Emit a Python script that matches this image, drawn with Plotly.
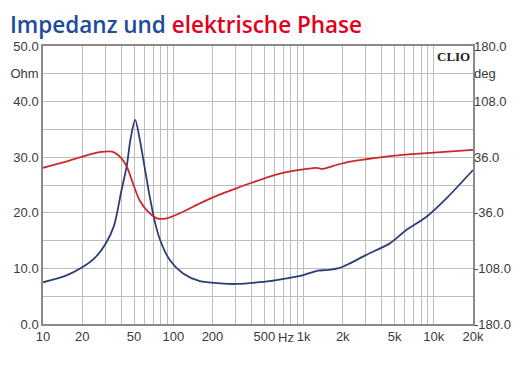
import math
import plotly.graph_objects as go

# ---- data ----
imp_freq = [10, 15, 20, 25, 30, 35, 40, 44, 47, 51, 55, 60, 66, 72, 79, 94, 119, 160,
            230, 300, 400, 550, 740, 1000, 1290, 1500, 1900, 2270, 2950, 4600, 6150,
            8800, 12500, 20000]
impedance = [7.5, 8.7, 10.2, 11.9, 14.3, 17.6, 24.0, 28.5, 33.3, 36.7, 33.5, 28.5,
             22.9, 18.5, 15.2, 11.5, 9.1, 7.7, 7.3, 7.2, 7.4, 7.7, 8.2, 8.8, 9.6, 9.7,
             10.1, 10.9, 12.3, 14.5, 16.9, 19.3, 22.6, 27.7]

ph_freq = [10, 15, 20, 27, 34, 40, 44, 49, 55, 64, 75, 89, 119, 160, 229, 305, 400,
           550, 740, 1000, 1255, 1410, 1790, 2270, 2950, 4600, 8300, 20000]
phase = [22.3, 30.2, 36.7, 42.5, 43.2, 34.6, 23.8, 2.2, -19.4, -34.6, -43.2, -43.2,
         -34.6, -23.8, -12.2, -4.3, 2.9, 10.8, 16.6, 20.2, 22.3, 20.9, 25.9, 30.2, 33.1,
         37.4, 41.0, 45.4]

x_grid = [m * d for d in (10, 100, 1000) for m in range(1, 10)] + [10000, 20000]
x_labels = {10: "10", 20: "20", 50: "50", 100: "100", 200: "200", 500: "500",
            1000: "1k", 2000: "2k", 5000: "5k", 10000: "10k", 20000: "20k"}
y_grid = [0, 5, 10, 15, 20, 25, 30, 35, 40, 45, 50]
y_labels = {0: "0.0", 10: "10.0", 20: "20.0", 30: "30.0", 40: "40.0", 45: "Ohm", 50: "50.0"}
y2_ticks = [-180, -108, -36, 36, 108, 144, 180]
y2_labels = ["-180.0", "-108.0", "-36.0", "36.0", "108.0", "deg", "180.0"]

BLUE = "#2e3e74"
RED = "#c92a2c"
TICKFONT = dict(family="Liberation Sans, Arial, sans-serif", size=13, color="#3a3a3a")

fig = go.Figure()
fig.add_trace(go.Scatter(x=imp_freq, y=impedance, mode="lines",
                         line=dict(color=BLUE, width=1.8, shape="spline", smoothing=0.8),
                         showlegend=False))
fig.add_trace(go.Scatter(x=ph_freq, y=phase, mode="lines", yaxis="y2",
                         line=dict(color=RED, width=1.8, shape="spline", smoothing=0.8),
                         showlegend=False))

fig.update_layout(
    width=519, height=361,
    margin=dict(l=35, r=54, t=38, b=45),
    paper_bgcolor="white", plot_bgcolor="white",
    xaxis=dict(type="log", range=[1, math.log10(20000)], automargin=False,
               tickvals=x_grid, ticktext=[x_labels.get(v, "") for v in x_grid],
               showgrid=True, gridcolor="#bdbdbd", gridwidth=1,
               showline=True, linecolor="#8a8a8a", linewidth=1.5, mirror=True,
               ticks="", tickfont=TICKFONT, zeroline=False),
    yaxis=dict(range=[0, 50], tickvals=y_grid, automargin=False,
               ticktext=[y_labels.get(v, "") for v in y_grid],
               showgrid=True, gridcolor="#bdbdbd", gridwidth=1,
               showline=True, linecolor="#8a8a8a", linewidth=1.5, mirror=True,
               ticks="", tickfont=TICKFONT, zeroline=False),
    yaxis2=dict(range=[-180, 180], overlaying="y", side="right", automargin=False,
                tickvals=y2_ticks, ticktext=y2_labels, showgrid=False,
                zeroline=False, ticks="", tickfont=TICKFONT),
    annotations=[
        dict(text="<span style='color:#1b4c9c'>Impedanz und</span> "
                  "<span style='color:#e2001a'>elektrische Phase</span>",
             xref="paper", yref="paper", x=-35/430, y=1 + 38/278, xanchor="left",
             yanchor="top", yshift=1, showarrow=False,
             font=dict(family="Open Sans, sans-serif", size=22.5, weight=600)),
        dict(text="<b>CLIO</b>", xref="paper", yref="paper", x=0.997, y=0.995,
             xanchor="right", yanchor="top", showarrow=False,
             font=dict(family="Liberation Serif, serif", size=13, color="#222")),
        dict(text="Hz", xref="x", yref="paper", x=math.log10(740), y=0,
             yanchor="top", yshift=-4, showarrow=False, font=TICKFONT),
    ],
)

fig.write_html("out.html")
